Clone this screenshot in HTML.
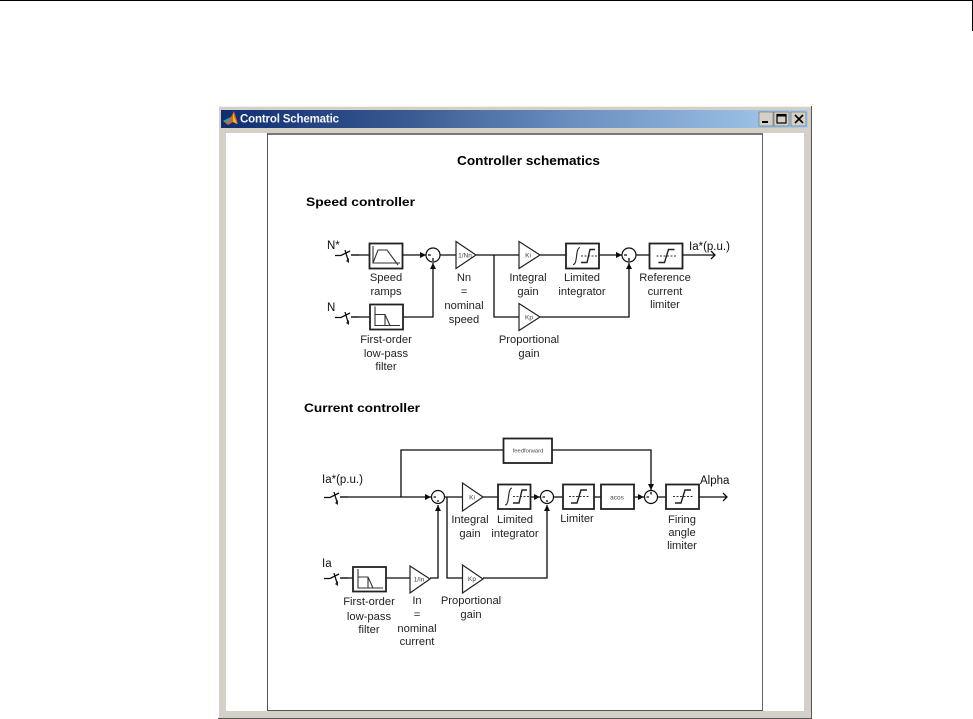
<!DOCTYPE html>
<html>
<head>
<meta charset="utf-8">
<style>
html,body{margin:0;padding:0;background:#fff;width:973px;height:719px;overflow:hidden}
svg{display:block}
text{font-family:"Liberation Sans",Arial,sans-serif}
.l text,.l{font-size:11.2px;fill:#222;text-anchor:middle}
.b{font-weight:bold;font-size:12.4px;fill:#000}
.s{font-size:11.5px;fill:#111}
.w{fill:none;stroke:#111;stroke-width:1.3}
.bx{fill:#fff;stroke:#222;stroke-width:1.8}
.tr{fill:#fff;stroke:#222;stroke-width:1.2}
.i{fill:none;stroke:#333;stroke-width:1.1}
.t{font-size:6.5px;fill:#444;text-anchor:middle}
</style>
</head>
<body>
<svg width="973" height="719" viewBox="0 0 973 719" xmlns="http://www.w3.org/2000/svg">
<defs>
<linearGradient id="tb" x1="0" x2="1" y1="0" y2="0">
<stop offset="0" stop-color="#0f2d72"/>
<stop offset="0.3" stop-color="#36578f"/>
<stop offset="0.6" stop-color="#6b8fbf"/>
<stop offset="1" stop-color="#a8cdf0"/>
</linearGradient>
<filter id="soft" x="-2%" y="-2%" width="104%" height="104%"><feGaussianBlur stdDeviation="0.35"/></filter>
<g id="sw"><path class="w" d="M0 0.500H6L15-4M10-5L13 5M16 0H24"/><path d="M11 6l3-3 0 5z" fill="#222"/></g>
<g id="lim"><path class="i" d="M7 12.500H27" stroke-dasharray="2 1.500"/><path d="M9 19H15L19 6H25" fill="none" stroke="#222" stroke-width="1.400"/></g>
<g id="limint"><path d="M7 21C12 21 9 5 14 4" fill="none" stroke="#222" stroke-width="1.100"/><path class="i" d="M15 12.500H31" stroke-dasharray="2 1.500"/><path d="M15 19H21L24 6H29" fill="none" stroke="#222" stroke-width="1.400"/></g>
<g id="lpf"><path class="i" d="M5 2V21H30"/><path class="i" d="M5 10H15L20 21"/><path class="i" d="M15 10V21"/></g>
</defs>

<!-- page rule -->
<rect x="0" y="0" width="973" height="1" fill="#000"/>
<rect x="972" y="0" width="1" height="31" fill="#000"/>

<!-- window -->
<rect x="218" y="106" width="594" height="613" fill="#d4d0c8"/>
<rect x="218" y="106" width="594" height="1" fill="#f4f2ee"/>
<rect x="218" y="106" width="1" height="612" fill="#fff"/>
<rect x="811" y="106" width="1" height="613" fill="#555"/>
<rect x="218" y="718" width="594" height="1" fill="#555"/>
<rect x="221" y="110" width="587" height="18" fill="url(#tb)"/>
<rect x="226" y="133" width="578" height="578" fill="#fff"/>
<rect x="267" y="133" width="496" height="2" fill="#777"/>
<rect x="267" y="133" width="1" height="578" fill="#555"/>
<rect x="762" y="133" width="1" height="578" fill="#666"/>
<rect x="267" y="710" width="496" height="1" fill="#555"/>

<!-- icon -->
<path d="M223 121L231 117L234 111L238 124L233 122L228 125Z" fill="#d8641c"/>
<path d="M223 121L231 117L229 123Z" fill="#3a9aa8"/>
<path d="M233 113L237 124L233 122Z" fill="#f4b42a"/>
<text x="240" y="122.500" font-size="11.500" font-weight="bold" fill="#f4f6fa" textLength="99" lengthAdjust="spacing">Control Schematic</text>

<!-- buttons -->
<g>
<rect x="759" y="112" width="14" height="14" fill="#d4d0c8" stroke="#555" stroke-width="0.500"/>
<rect x="762" y="121" width="6" height="2" fill="#000"/>
<rect x="774" y="112" width="15" height="14" fill="#d4d0c8" stroke="#555" stroke-width="0.500"/>
<rect x="777" y="114.500" width="9" height="8.500" fill="none" stroke="#000" stroke-width="1.200"/>
<rect x="777" y="114.500" width="9" height="2" fill="#000"/>
<rect x="791" y="112" width="15" height="14" fill="#d4d0c8" stroke="#555" stroke-width="0.500"/>
<path d="M795 115L803 123M803 115L795 123" stroke="#000" stroke-width="1.600"/>
</g>

<g filter="url(#soft)">
<!-- headings -->
<text class="b" x="457" y="165" textLength="143" lengthAdjust="spacingAndGlyphs" style="font-size:13px">Controller schematics</text>
<text class="b" x="306" y="206" textLength="109" lengthAdjust="spacingAndGlyphs">Speed controller</text>
<text class="b" x="304" y="412" textLength="116" lengthAdjust="spacingAndGlyphs">Current controller</text>

<!-- SPEED wires -->
<path class="w" d="M351 255H369M403 255H426M440 255H456M476 255H519M540 255H566M599 255H622M636 255H649M683 255H715"/>
<path class="w" d="M711 251L715 255L711 259" stroke-width="0.900"/>
<path class="w" d="M351 317H370M403 317H433V263M494 255V317H519M540 317H629V263"/>
<path d="M420 252l6 3-6 3zM430 269l3-6 3 6zM616 252l6 3-6 3zM626 269l3-6 3 6z" fill="#111"/>
<use href="#sw" x="335" y="255"/>
<use href="#sw" x="335" y="317"/>

<!-- speed blocks -->
<rect class="bx" x="369.500" y="243.500" width="33" height="25"/>
<path class="i" d="M373 246V263H400M373 263L378 250H387L398 265"/>
<rect class="bx" x="370" y="304.500" width="33" height="25"/>
<use href="#lpf" x="370" y="304.500"/>
<circle cx="433" cy="255" r="7" fill="#fff" stroke="#111" stroke-width="1.200"/>
<path class="w" d="M428 255h3M433 258v3" stroke-width="0.800"/>
<polygon class="tr" points="456,241.500 476,255 456,268.500"/>
<text class="t" x="465" y="257.500">1/Nn</text>
<polygon class="tr" points="519,241.500 540,255 519,268.500"/>
<text class="t" x="528" y="257.500">Ki</text>
<polygon class="tr" points="519,303.500 540,317 519,330.500"/>
<text class="t" x="529" y="319.500">Kp</text>
<rect class="bx" x="566" y="243.500" width="33" height="25"/>
<use href="#limint" x="566" y="243.500"/>
<circle cx="629" cy="255" r="7" fill="#fff" stroke="#111" stroke-width="1.200"/>
<path class="w" d="M624 255h3M629 258v3" stroke-width="0.800"/>
<rect class="bx" x="649.500" y="243.500" width="33" height="25"/>
<use href="#lim" x="649.500" y="243.500"/>

<!-- speed labels -->
<text class="s" x="327" y="249">N*</text>
<text class="s" x="327" y="311">N</text>
<text class="s" x="689" y="250">Ia*(p.u.)</text>
<g class="l">
<text x="386" y="281">Speed</text><text x="386" y="295">ramps</text>
<text x="464" y="281">Nn</text><text x="464" y="295">=</text><text x="464" y="309">nominal</text><text x="464" y="323">speed</text>
<text x="528" y="281">Integral</text><text x="528" y="295">gain</text>
<text x="582" y="281">Limited</text><text x="582" y="295">integrator</text>
<text x="665" y="281">Reference</text><text x="665" y="295">current</text><text x="665" y="308">limiter</text>
<text x="529" y="343">Proportional</text><text x="529" y="357">gain</text>
<text x="386" y="343">First-order</text><text x="386" y="357">low-pass</text><text x="386" y="370">filter</text>
</g>

<!-- CURRENT wires -->
<path class="w" d="M340 497H431M445 497H462M483 497H498M530 497H540M554 497H563M594 497H601M634 497H644M658 497H666M699 497H727"/>
<path class="w" d="M723 493L727 497L723 501" stroke-width="0.900"/>
<path class="w" d="M401 497V450H503M552 450H651V490"/>
<path class="w" d="M340 578H353M386 578H410M430 578H438V505M447 497V578H462M483 578H547V505"/>
<path d="M425 494l6 3-6 3zM435 511l3-6 3 6zM534 494l6 3-6 3zM544 511l3-6 3 6zM638 494l6 3-6 3zM648 484l3 6 3-6z" fill="#111"/>
<use href="#sw" x="324" y="497"/>
<use href="#sw" x="324" y="578"/>

<!-- current blocks -->
<rect class="bx" x="503.500" y="438.500" width="48.500" height="24.500"/>
<text class="t" x="528" y="452.500" style="font-size:5.800px">feedforward</text>
<circle cx="438" cy="497" r="6.500" fill="#fff" stroke="#111" stroke-width="1.200"/>
<path class="w" d="M433.500 497h2.500M438 500v2" stroke-width="0.800"/>
<polygon class="tr" points="462.500,483 483,497 462.500,511"/>
<text class="t" x="472" y="499.500">Ki</text>
<rect class="bx" x="498" y="484.500" width="32.500" height="24.500"/>
<use href="#limint" x="498" y="484"/>
<circle cx="547" cy="497" r="6.500" fill="#fff" stroke="#111" stroke-width="1.200"/>
<path class="w" d="M542.500 497h2.500M547 500v2" stroke-width="0.800"/>
<rect class="bx" x="563" y="484.500" width="31" height="24.500"/>
<use href="#lim" x="562" y="484"/>
<rect class="bx" x="601" y="484.500" width="33" height="24.500"/>
<text class="t" x="617" y="499.500">acos</text>
<circle cx="651" cy="497" r="6.500" fill="#fff" stroke="#111" stroke-width="1.200"/>
<path class="w" d="M646.500 497h2.500M651 492v2.500" stroke-width="0.800"/>
<rect class="bx" x="666" y="484.500" width="33" height="24.500"/>
<use href="#lim" x="666" y="484"/>
<rect class="bx" x="353" y="567" width="33" height="24.500"/>
<use href="#lpf" x="353" y="567"/>
<polygon class="tr" points="410,566 430,579 410,593"/>
<text class="t" x="419" y="581.500">1/In</text>
<polygon class="tr" points="462.500,565 483,579 462.500,593"/>
<text class="t" x="472" y="581">Kp</text>

<!-- current labels -->
<text class="s" x="322" y="483">Ia*(p.u.)</text>
<text class="s" x="322" y="567">Ia</text>
<text class="s" x="700" y="484">Alpha</text>
<g class="l">
<text x="470" y="523">Integral</text><text x="470" y="537">gain</text>
<text x="515" y="523">Limited</text><text x="515" y="537">integrator</text>
<text x="577" y="522">Limiter</text>
<text x="682" y="523">Firing</text><text x="682" y="536">angle</text><text x="682" y="549">limiter</text>
<text x="369" y="605">First-order</text><text x="369" y="620">low-pass</text><text x="369" y="633">filter</text>
<text x="417" y="604">In</text><text x="417" y="618">=</text><text x="417" y="632">nominal</text><text x="417" y="645">current</text>
<text x="471" y="604">Proportional</text><text x="471" y="618">gain</text>
</g>
</g>
</svg>
</body>
</html>
